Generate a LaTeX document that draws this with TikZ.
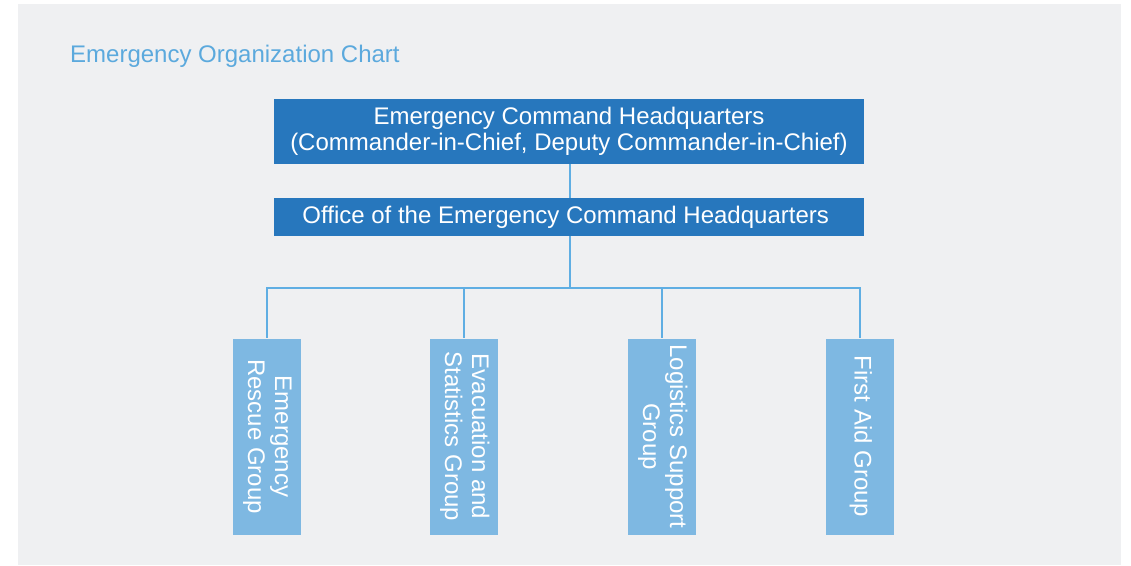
\documentclass[tikz,border=0pt]{standalone}
\usepackage{fontspec}
\setmainfont{Liberation Sans}
\usetikzlibrary{positioning, calc}

\definecolor{pagegrey}{HTML}{EFF0F2}
\definecolor{darkblue}{HTML}{2777BD}
\definecolor{lightblue}{HTML}{7EB8E2}
\definecolor{linkblue}{HTML}{5FAEE3}
\definecolor{titleblue}{HTML}{5BA9DD}

\newcommand{\grouptext}[1]{\rotatebox{-90}{\begin{tabular}{@{}c@{}}#1\end{tabular}}}

\begin{document}
\begin{tikzpicture}[
        x=1pt, y=-1pt,
        headbox/.style={rectangle, fill=darkblue, text=white, align=center, inner sep=0pt, minimum width=590pt, font=\fontsize{24}{26}\selectfont},
        groupbox/.style={rectangle, fill=lightblue, text=white, inner sep=0pt, minimum width=68pt, minimum height=196pt, font=\fontsize{24}{27}\selectfont},
        link/.style={draw=linkblue, line width=1.4pt}
    ]
        \useasboundingbox (0,0) rectangle (1131,565);
        \fill[pagegrey] (18,4) rectangle (1121,565);

        % ----------------------------------------------------
        % TITLE AND HEADQUARTERS
        % ----------------------------------------------------
        \node[anchor=base west, text=titleblue, inner sep=0pt, font=\fontsize{24}{27}\selectfont] (title) at (70,62) {Emergency Organization Chart};

        \node[headbox, minimum height=65pt] (hq) at (569,131.5) {
            Emergency Command Headquarters \\
            (Commander-in-Chief, Deputy Commander-in-Chief)
        };

        \node[headbox, minimum height=38pt] (office) at (569,217) {
            Office of the Emergency Command Headquarters
        };

        % ----------------------------------------------------
        % GROUPS
        % ----------------------------------------------------
        \node[groupbox] (rescue) at (267,436.5) {\grouptext{Emergency\\Rescue Group}};
        \node[groupbox] (evacuation) at (464,436.5) {\grouptext{Evacuation and\\Statistics Group}};
        \node[groupbox] (logistics) at (662,436.5) {\grouptext{Logistics Support\\Group}};
        \node[groupbox] (firstaid) at (860,436.5) {\grouptext{First Aid Group}};

        % ----------------------------------------------------
        % CONNECTIONS
        % ----------------------------------------------------
        \coordinate (bus) at (570,288);
        \draw[link] (hq.south -| bus) -- (office.north -| bus);
        \draw[link] (office.south -| bus) -- (bus);
        \foreach \grp in {rescue, evacuation, logistics, firstaid}
            \draw[link] (bus) -| (\grp.north);

    \end{tikzpicture}
\end{document}
